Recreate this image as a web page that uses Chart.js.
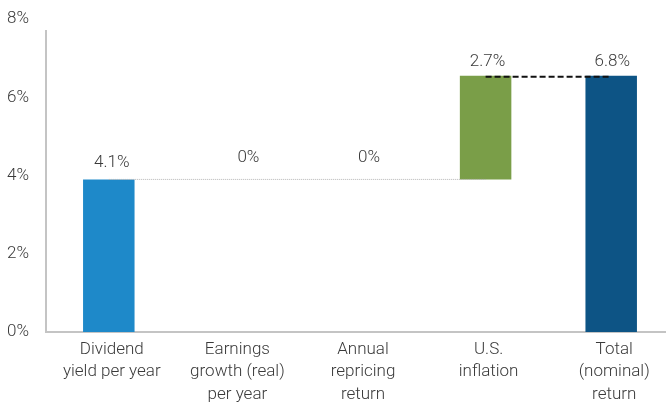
<!DOCTYPE html>
<html>
<head>
<meta charset="utf-8">
<script src="https://cdn.jsdelivr.net/npm/chart.js@4/dist/chart.umd.min.js"></script>
<style>
  html, body { margin: 0; padding: 0; background: #fff; overflow: hidden; }
  #wrap { width: 680px; height: 404px; }
</style>
</head>
<body>
<div id="wrap"><canvas id="waterfall"></canvas></div>
<script>
const categories = [
    ['Dividend', 'yield per year'],
    ['Earnings', 'growth (real)', 'per year'],
    ['Annual', 'repricing', 'return'],
    ['U.S.', 'inflation'],
    ['Total', '(nominal)', 'return']
];
// bar bottoms and tops as drawn (in %)
const barStart = [0, 3.9, 3.9, 3.9, 0];
const barEnd = [3.9, 3.9, 3.9, 6.55, 6.55];
const valueLabels = ['4.1%', '0%', '0%', '2.7%', '6.8%'];
const barColors = ['#1e89c9', 'rgba(0,0,0,0)', 'rgba(0,0,0,0)', '#7a9e48', '#0d5485'];
const yTicks = [0, 2, 4, 6, 8];

const FONT = "'Roboto', sans-serif";
const TEXT = '#3a3a3a';

// connector lines, value labels and the short left axis line
const extras = {
    id: 'extras',
    afterDatasetsDraw(chart) {
        const ctx = chart.ctx;
        const x = chart.scales.x;
        const y = chart.scales.y;
        const meta = chart.getDatasetMeta(0);
        const lift = [8, 13, 13, 5, 5];
        const shift = [3, 14, 9, 2, 1];

        ctx.save();
        // left axis line
        ctx.strokeStyle = '#c4c4c4';
        ctx.lineWidth = 2;
        ctx.beginPath();
        ctx.moveTo(x.left, y.getPixelForValue(7.72));
        ctx.lineTo(x.left, y.getPixelForValue(0));
        ctx.stroke();

        // dotted grey line at dividend level
        ctx.strokeStyle = '#b5b5b5';
        ctx.lineWidth = 1;
        ctx.setLineDash([1, 1]);
        ctx.beginPath();
        ctx.moveTo(meta.data[0].x, y.getPixelForValue(barEnd[0]));
        ctx.lineTo(meta.data[3].x, y.getPixelForValue(barEnd[0]));
        ctx.stroke();

        // dashed black line at total level
        ctx.strokeStyle = '#111';
        ctx.lineWidth = 2;
        ctx.setLineDash([6, 3]);
        ctx.beginPath();
        ctx.moveTo(meta.data[3].x, y.getPixelForValue(barEnd[4]) + 1);
        ctx.lineTo(meta.data[4].x, y.getPixelForValue(barEnd[4]) + 1);
        ctx.stroke();
        ctx.setLineDash([]);

        // value labels
        ctx.fillStyle = TEXT;
        ctx.font = '300 17px ' + FONT;
        ctx.textAlign = 'center';
        ctx.textBaseline = 'bottom';
        meta.data.forEach((bar, i) => {
            const top = y.getPixelForValue(Math.max(barStart[i], barEnd[i]));
            ctx.fillText(valueLabels[i], bar.x + shift[i], top - lift[i]);
        });
        ctx.restore();
    }
};

new Chart(document.querySelector('#waterfall'), {
    type: 'bar',
    data: {
        labels: categories,
        datasets: [{
            data: barStart.map((s, i) => [s, barEnd[i]]),
            backgroundColor: barColors,
            borderWidth: 0,
            categoryPercentage: 1,
            barPercentage: 0.41
        }]
    },
    options: {
        responsive: true,
        maintainAspectRatio: false,
        animation: false,
        layout: { padding: { top: 19, right: 6, left: 0 } },
        plugins: {
            legend: { display: false },
            tooltip: { enabled: false }
        },
        scales: {
            x: {
                grid: { display: false, drawTicks: false },
                border: { color: '#c4c4c4', width: 2 },
                ticks: {
                    color: TEXT,
                    font: { family: FONT, size: 17, weight: 300, lineHeight: 1.3 },
                    padding: 7,
                    labelOffset: 3,
                    maxRotation: 0,
                    autoSkip: false
                },
                afterFit: axis => {
                    axis.paddingLeft = 0;
                    axis.paddingRight = 0;
                    axis.height = 72;
                }
            },
            y: {
                min: 0,
                max: 8,
                afterBuildTicks: axis => { axis.ticks = yTicks.map(v => ({ value: v })); },
                grid: { display: false, drawTicks: false },
                border: { display: false },
                ticks: {
                    color: TEXT,
                    font: { family: FONT, size: 17, weight: 300 },
                    padding: 17,
                    callback: v => v + '%'
                },
                afterFit: axis => {
                    axis.width = 46;
                    axis.paddingTop = 0;
                    axis.paddingBottom = 0;
                }
            }
        }
    },
    plugins: [extras]
});
</script>
</body>
</html>
